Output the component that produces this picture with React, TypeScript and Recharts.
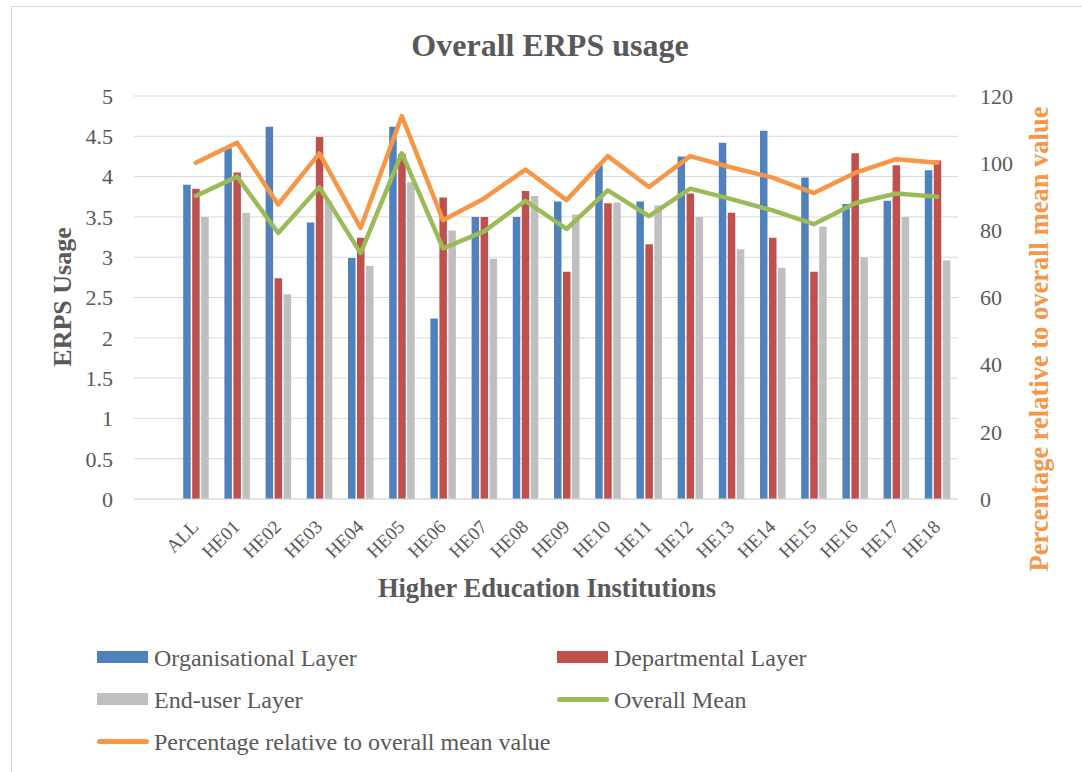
import { Bar, CartesianGrid, ComposedChart, Legend, Line, XAxis, YAxis } from 'recharts'

// first slot is an empty category, as in the source sheet
const categories = ['', 'ALL', 'HE01', 'HE02', 'HE03', 'HE04', 'HE05', 'HE06', 'HE07', 'HE08', 'HE09', 'HE10', 'HE11', 'HE12', 'HE13', 'HE14', 'HE15', 'HE16', 'HE17', 'HE18']
const organisationalLayer = [null, 3.9, 4.35, 4.62, 3.43, 2.99, 4.62, 2.24, 3.5, 3.5, 3.69, 4.14, 3.69, 4.25, 4.42, 4.57, 3.99, 3.66, 3.7, 4.08]
const departmentalLayer = [null, 3.85, 4.05, 2.74, 4.49, 3.24, 4.28, 3.74, 3.5, 3.82, 2.82, 3.67, 3.16, 3.79, 3.55, 3.24, 2.82, 4.29, 4.14, 4.2]
const endUserLayer = [null, 3.5, 3.55, 2.54, 3.7, 2.89, 3.93, 3.33, 2.98, 3.76, 3.53, 3.68, 3.64, 3.5, 3.1, 2.87, 3.38, 3.0, 3.5, 2.96]
const overallMean = [null, 3.76, 4.0, 3.3, 3.87, 3.05, 4.29, 3.11, 3.32, 3.7, 3.35, 3.83, 3.51, 3.85, 3.72, 3.58, 3.41, 3.67, 3.79, 3.75]
const percentageOfMean = [null, 100.1, 106.1, 87.7, 102.9, 80.7, 114, 83, 89.5, 98.1, 89, 102.1, 92.9, 102.1, 98.7, 95.7, 91.1, 97.1, 101.2, 100.1]

const leftTicks = [0, 0.5, 1, 1.5, 2, 2.5, 3, 3.5, 4, 4.5, 5]
const rightTicks = [0, 20, 40, 60, 80, 100, 120]

const chartData = categories.map((category, i) => ({
  category,
  organisational: organisationalLayer[i],
  departmental: departmentalLayer[i],
  endUser: endUserLayer[i],
  mean: overallMean[i],
  percentage: percentageOfMean[i],
}))

const FONT = "'Liberation Serif', 'Times New Roman', serif"
const TEXT = '#595959'
const GRID = '#D9D9D9'
const BLUE = '#4F81BD'
const RED = '#C0504D'
const GREY = '#BFBFBF'
const GREEN = '#9BBB59'
const ORANGE = '#F79646'

function CategoryTick({ x, y, payload }: any) {
  if (!payload || !payload.value) return <g />
  const ax = x + 4
  const ay = y + 29
  return (
    <text
      x={ax}
      y={ay}
      transform={`rotate(-45, ${ax}, ${ay})`}
      textAnchor="end"
      fontSize={19}
      fontFamily={FONT}
      fill={TEXT}
    >
      {payload.value}
    </text>
  )
}

// where each legend entry sits (left edge of the swatch, vertical centre)
const legendSpots: Record<string, { x: number; y: number; line: boolean }> = {
  organisational: { x: 97, y: 657, line: false },
  departmental: { x: 557, y: 657, line: false },
  endUser: { x: 97, y: 699, line: false },
  mean: { x: 557, y: 699, line: true },
  percentage: { x: 97, y: 741, line: true },
}

function LegendContent({ payload }: any) {
  return (
    <div style={{ position: 'relative', width: 1082, height: 772, pointerEvents: 'none' }}>
      {(payload || []).map((item: any) => {
        const spot = legendSpots[item.dataKey]
        if (!spot) return null
        return (
          <div
            key={item.dataKey}
            style={{
              position: 'absolute',
              left: spot.x,
              top: spot.y - 15,
              height: 30,
              display: 'flex',
              alignItems: 'center',
              whiteSpace: 'nowrap',
              fontFamily: FONT,
              fontSize: 24,
              color: TEXT,
            }}
          >
            {spot.line ? (
              <span style={{ width: 52, height: 5, borderRadius: 3, background: item.color, marginRight: 5 }} />
            ) : (
              <span style={{ width: 51, height: 12, background: item.color, marginRight: 6 }} />
            )}
            <span style={{ position: 'relative', top: 1 }}>{item.value}</span>
          </div>
        )
      })}
    </div>
  )
}

export default function App() {
  return (
    <div style={{ position: 'absolute', left: 0, top: 0, width: 1082, height: 772, background: '#fff', overflow: 'hidden' }}>
      <div
        style={{
          position: 'absolute',
          left: 11,
          top: 6,
          width: 1071,
          height: 766,
          borderLeft: `1px solid ${GRID}`,
          borderTop: `1px solid ${GRID}`,
        }}
      />
      <svg width={1082} height={772} style={{ position: 'absolute', left: 0, top: 0 }}>
        <text x={550} y={56} textAnchor="middle" fontFamily={FONT} fontSize={32} fontWeight="bold" fill={TEXT}>
          Overall ERPS usage
        </text>
      </svg>
      <div style={{ position: 'absolute', left: 0, top: 0 }}>
        <ComposedChart
          width={1082}
          height={772}
          data={chartData}
          margin={{ top: 96, right: 0, bottom: 173, left: 0 }}
          barSize={7.5}
          barGap={1.5}
        >
          <CartesianGrid yAxisId="left" vertical={false} stroke={GRID} strokeWidth={1} />
          <XAxis
            dataKey="category"
            interval={0}
            height={100}
            tick={<CategoryTick />}
            tickLine={false}
            tickSize={0}
            tickMargin={0}
            axisLine={{ stroke: GRID }}
            label={{
              content: () => (
                <text x={547} y={597} textAnchor="middle" fontFamily={FONT} fontSize={26.5} fontWeight="bold" fill={TEXT}>
                  Higher Education Institutions
                </text>
              ),
            }}
          />
          <YAxis
            yAxisId="left"
            orientation="left"
            width={134}
            domain={[0, 5]}
            ticks={leftTicks}
            axisLine={false}
            tickLine={false}
            tickSize={0}
            tickMargin={21}
            tick={{ fontSize: 22, fontFamily: FONT, fill: TEXT }}
            label={{
              content: () => (
                <text
                  x={71}
                  y={297}
                  transform="rotate(-90, 71, 297)"
                  textAnchor="middle"
                  fontFamily={FONT}
                  fontSize={26}
                  fontWeight="bold"
                  fill={TEXT}
                >
                  ERPS Usage
                </text>
              ),
            }}
          />
          <YAxis
            yAxisId="right"
            orientation="right"
            width={124}
            domain={[0, 120]}
            ticks={rightTicks}
            axisLine={false}
            tickLine={false}
            tickSize={0}
            tickMargin={22}
            tick={{ fontSize: 22, fontFamily: FONT, fill: TEXT }}
            label={{
              content: () => (
                <text
                  x={1048}
                  y={339}
                  transform="rotate(-90, 1048, 339)"
                  textAnchor="middle"
                  fontFamily={FONT}
                  fontSize={26.5}
                  fontWeight="bold"
                  fill={ORANGE}
                >
                  Percentage relative to overall mean value
                </text>
              ),
            }}
          />
          <Bar yAxisId="left" dataKey="organisational" name="Organisational Layer" fill={BLUE} isAnimationActive={false} />
          <Bar yAxisId="left" dataKey="departmental" name="Departmental Layer" fill={RED} isAnimationActive={false} />
          <Bar yAxisId="left" dataKey="endUser" name="End-user Layer" fill={GREY} isAnimationActive={false} />
          <Line
            yAxisId="left"
            type="linear"
            dataKey="mean"
            name="Overall Mean"
            stroke={GREEN}
            strokeWidth={4.5}
            strokeLinecap="round"
            strokeLinejoin="round"
            dot={false}
            activeDot={false}
            isAnimationActive={false}
          />
          <Line
            yAxisId="right"
            type="linear"
            dataKey="percentage"
            name="Percentage relative to overall mean value"
            stroke={ORANGE}
            strokeWidth={4.5}
            strokeLinecap="round"
            strokeLinejoin="round"
            dot={false}
            activeDot={false}
            isAnimationActive={false}
          />
          <Legend
            layout="horizontal"
            verticalAlign="middle"
            align="center"
            wrapperStyle={{ position: 'absolute', top: 0, left: 0, width: 1082, height: 772, pointerEvents: 'none' }}
            content={<LegendContent />}
          />
        </ComposedChart>
      </div>
    </div>
  )
}
